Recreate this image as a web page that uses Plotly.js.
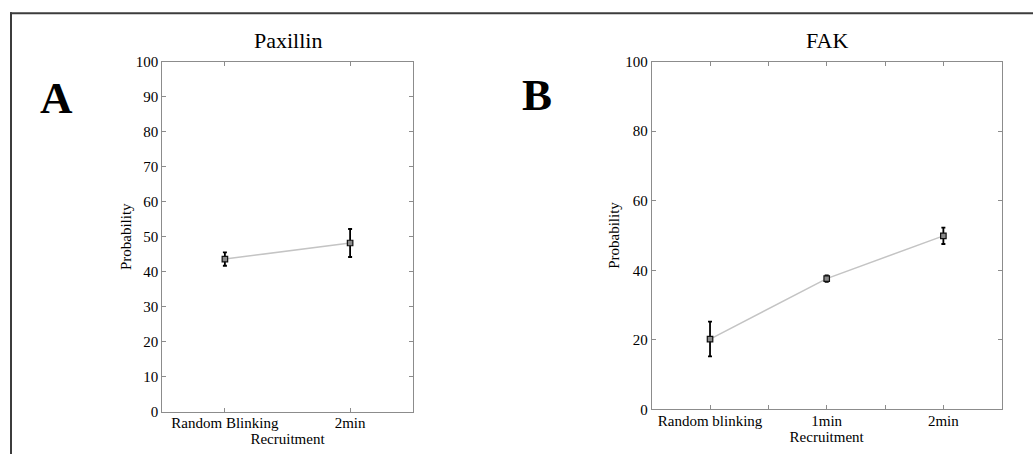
<!DOCTYPE html>
<html>
<head>
<meta charset="utf-8">
<script src="https://cdn.plot.ly/plotly-3.0.1.min.js"></script>
<style>html,body{margin:0;padding:0;background:#fff;}#chart{width:1033px;height:454px;}</style>
</head>
<body>
<div id="chart"></div>
<script>
// ---- data ----
const catsA = ['Random Blinking', '2min'];
const paxillinMean = [43.6, 48.2];
const paxillinErr = [1.9, 4.0];
const yTicksA = [0, 10, 20, 30, 40, 50, 60, 70, 80, 90, 100];

const catsB = ['Random blinking', '1min', '2min'];
const fakMean = [20.2, 37.6, 49.9];
const fakErr = [5.0, 0.9, 2.35];
const yTicksB = [0, 20, 40, 60, 80, 100];

const titleA = 'Paxillin';
const titleB = 'FAK';
const xTitle = 'Recruitment';
const yTitle = 'Probability';

// ---- rendering ----
const W = 1033, H = 454;
const FONT = 'Liberation Serif, Times New Roman, serif';
const posA = catsA.map((_, i) => i + 1);
const posB = catsB.map((_, i) => i + 1);

function trace(x, y, err, xa, ya) {
  return {
    type: 'scatter', mode: 'lines+markers', x: x, y: y,
    xaxis: xa, yaxis: ya,
    line: {color: '#c4c4c4', width: 1.5},
    marker: {symbol: 'square', size: 5.5, color: '#8a8a8a', line: {color: '#111', width: 1.2}},
    error_y: {type: 'data', array: err, visible: true, color: '#000', thickness: 1.8, width: 2},
    showlegend: false, hoverinfo: 'x+y'
  };
}

const axisCommon = {
  showgrid: false, zeroline: false, showline: true, linecolor: '#8c8c8c', linewidth: 1,
  mirror: 'ticks', ticks: 'inside', ticklen: 4, tickcolor: '#8c8c8c', tickwidth: 1,
  tickfont: {family: FONT, size: 15, color: '#000'}, fixedrange: true
};

function px(x) { return x / W; }
function py(y) { return 1 - y / H; }

const layout = {
  width: W, height: H,
  margin: {l: 0, r: 0, t: 0, b: 0},
  paper_bgcolor: '#fff', plot_bgcolor: '#fff',
  font: {family: FONT, color: '#000'},
  xaxis: Object.assign({}, axisCommon, {
    domain: [px(162.3), px(412.7)], range: [0.5, catsA.length + 0.5],
    tickmode: 'array', tickvals: posA, ticktext: catsA, anchor: 'y', ticklabelstandoff: -3,
    title: {text: xTitle, font: {family: FONT, size: 15, color: '#000'}, standoff: 0}
  }),
  yaxis: Object.assign({}, axisCommon, {
    domain: [py(411.7), py(61.7)], range: [0, 100],
    tickmode: 'array', tickvals: yTicksA, anchor: 'x', ticklabelstandoff: 0,
    title: {text: yTitle, font: {family: FONT, size: 15, color: '#000'}, standoff: 0}
  }),
  xaxis2: Object.assign({}, axisCommon, {
    domain: [px(651.7), px(1001.7)], range: [0.5, catsB.length + 0.5],
    tickmode: 'array', tickvals: posB, ticktext: catsB, anchor: 'y2', ticklabelstandoff: -2,
    minor: {tickmode: 'array', tickvals: [1.5, 2.5], ticks: 'inside', ticklen: 4, tickcolor: '#8c8c8c', tickwidth: 1, showgrid: false},
    title: {text: xTitle, font: {family: FONT, size: 15, color: '#000'}, standoff: 0}
  }),
  yaxis2: Object.assign({}, axisCommon, {
    domain: [py(409.3), py(61.7)], range: [0, 100],
    tickmode: 'array', tickvals: yTicksB, anchor: 'x2', ticklabelstandoff: 0,
    title: {text: yTitle, font: {family: FONT, size: 15, color: '#000'}, standoff: 1}
  }),
  annotations: [
    {text: titleA, xref: 'paper', yref: 'paper', x: px(287.5), y: py(40.5), xanchor: 'center', yanchor: 'middle',
     showarrow: false, font: {family: FONT, size: 22, color: '#000'}},
    {text: titleB, xref: 'paper', yref: 'paper', x: px(826.7), y: py(40.5), xanchor: 'center', yanchor: 'middle',
     showarrow: false, font: {family: FONT, size: 22, color: '#000'}},
    {text: '<b>A</b>', xref: 'paper', yref: 'paper', x: px(56), y: py(98), xanchor: 'center', yanchor: 'middle',
     showarrow: false, font: {family: FONT, size: 45, color: '#000'}},
    {text: '<b>B</b>', xref: 'paper', yref: 'paper', x: px(537), y: py(95), xanchor: 'center', yanchor: 'middle',
     showarrow: false, font: {family: FONT, size: 45, color: '#000'}}
  ],
  shapes: [
    {type: 'line', xref: 'paper', yref: 'paper', x0: px(10), x1: 1, y0: py(13.3), y1: py(13.3), line: {color: '#3c3c3c', width: 2}},
    {type: 'line', xref: 'paper', yref: 'paper', x0: px(11), x1: px(11), y0: py(12.3), y1: 0, line: {color: '#3c3c3c', width: 2}}
  ]
};

const data = [
  trace(posA, paxillinMean, paxillinErr, 'x', 'y'),
  trace(posB, fakMean, fakErr, 'x2', 'y2')
];

Plotly.newPlot('chart', data, layout, {displayModeBar: false, staticPlot: true});
</script>
</body>
</html>
